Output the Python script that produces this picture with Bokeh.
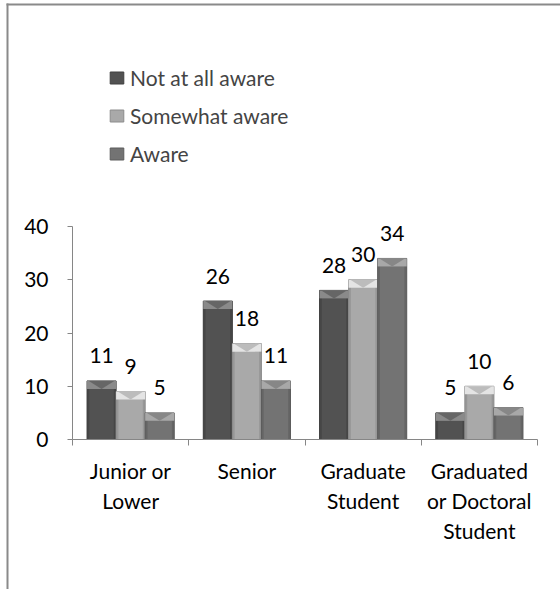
from bokeh.plotting import figure
from bokeh.models import (Range1d, FixedTicker, Legend, LegendItem, BoxAnnotation,
                          ColumnDataSource, LinearAxis)
from bokeh.core.properties import value
from bokeh.embed import file_html
from bokeh.resources import INLINE

# ---- data ----
categories = ["Junior or\nLower", "Senior", "Graduate\nStudent", "Graduated\nor Doctoral\nStudent"]
series_names = ["Not at all aware", "Somewhat aware", "Aware"]
not_at_all_aware = [11, 26, 28, 5]
somewhat_aware = [9, 18, 30, 10]
aware = [5, 11, 34, 6]
y_ticks = [0, 10, 20, 30, 40]

series_values = [not_at_all_aware, somewhat_aware, aware]
colors = ["#525252", "#a9a9a9", "#737373"]
cap_colors = ["#8a8a8a", "#e4e4e4", "#a8a8a8"]
tri_colors = ["#666666", "#bcbcbc", "#878787"]
edge_colors = ["#404040", "#8c8c8c", "#5c5c5c"]

FONT = "Lato"
BAR_W = 0.25
offsets = [-0.25, 0.0, 0.25]

W, H = 560, 589
# pixel layout of the value axis area inside the full-canvas frame
AX_LEFT, AX_RIGHT, AX_BOTTOM, AX_TOP = 72, 537, 439, 226
n = len(categories)
ymax = y_ticks[-1]
ux = (AX_RIGHT - AX_LEFT) / n
uy = (AX_BOTTOM - AX_TOP) / ymax
x_range = Range1d(-AX_LEFT / ux, n + (W - AX_RIGHT) / ux)
y_range = Range1d(-(H - AX_BOTTOM) / uy, ymax + AX_TOP / uy)

p = figure(width=W, height=H, output_backend="svg", toolbar_location=None,
           x_range=x_range, y_range=y_range,
           x_axis_location=None, y_axis_location=None,
           min_border=0, min_border_left=0, min_border_right=0,
           min_border_top=0, min_border_bottom=0)
p.outline_line_color = None
p.xgrid.visible = False
p.ygrid.visible = False
p.background_fill_color = "white"
p.border_fill_color = "white"

legend_items = []
cap_h = 1.5  # bevel band height in data units
edge_w = 0.02
for k, (name, vals) in enumerate(zip(series_names, series_values)):
    xs = [i + 0.5 + offsets[k] for i in range(len(vals))]
    src = ColumnDataSource(dict(x=xs, top=vals, label=[str(v) for v in vals]))
    r = p.vbar(x="x", top="top", bottom=0, width=BAR_W, source=src,
               fill_color=colors[k], line_color=edge_colors[k], line_width=1)
    legend_items.append(LegendItem(label=name, renderers=[r]))
    # darker side edges
    p.quad(left=[x - BAR_W / 2 for x in xs], right=[x - BAR_W / 2 + edge_w for x in xs],
           top=vals, bottom=0, fill_color=edge_colors[k], fill_alpha=0.6, line_color=None)
    p.quad(left=[x + BAR_W / 2 - edge_w for x in xs], right=[x + BAR_W / 2 for x in xs],
           top=vals, bottom=0, fill_color=edge_colors[k], fill_alpha=0.6, line_color=None)
    # bevel cap: light band at top with a darker downward chevron
    p.quad(left=[x - BAR_W / 2 for x in xs], right=[x + BAR_W / 2 for x in xs],
           top=vals, bottom=[v - cap_h for v in vals],
           fill_color=cap_colors[k], line_color=None)
    p.patches(xs=[[x - BAR_W / 2 + 0.015, x + BAR_W / 2 - 0.015, x] for x in xs],
              ys=[[v, v, v - cap_h] for v in vals],
              fill_color=tri_colors[k], line_color=None)
    p.text(x="x", y="top", text="label", source=src, text_align="center",
           text_baseline="middle", y_offset=-25, text_font=value(FONT),
           text_font_size="21px", text_color="black")

# axes (drawn at the data origin inside the full-canvas frame)
ax = LinearAxis(fixed_location=0, bounds=(0, n))
ax.ticker = FixedTicker(ticks=[i + 0.5 for i in range(n)],
                        minor_ticks=list(range(n + 1)))
ax.major_label_overrides = {i + 0.5: c for i, c in enumerate(categories)}
ax.major_tick_out = 0
ax.major_tick_in = 0
ax.minor_tick_out = 6
ax.minor_tick_in = 0
ax.minor_tick_line_color = "#868686"
ax.axis_line_color = "#868686"
ax.major_label_standoff = 12
ax.major_label_text_font = FONT
ax.major_label_text_font_size = "21px"
ax.major_label_text_color = "black"
p.add_layout(ax, "below")

ay = LinearAxis(fixed_location=0, bounds=(0, ymax))
ay.ticker = FixedTicker(ticks=y_ticks, minor_ticks=[])
ay.major_tick_out = 5
ay.major_tick_in = 0
ay.minor_tick_out = 0
ay.minor_tick_in = 0
ay.major_tick_line_color = "#868686"
ay.axis_line_color = "#868686"
ay.major_label_standoff = 19
ay.major_label_text_font = FONT
ay.major_label_text_font_size = "21px"
ay.major_label_text_color = "black"
p.add_layout(ay, "left")

legend = Legend(items=legend_items, location=(108, H - 167), orientation="vertical",
                glyph_width=17, glyph_height=15, label_height=28, spacing=10,
                label_standoff=5, padding=0, margin=0,
                label_text_font=FONT, label_text_font_size="21px",
                border_line_color=None, background_fill_alpha=0)
p.add_layout(legend, "center")

# outer frame strips (top and left) of the chart area; screen y counts from the bottom
left_strip = BoxAnnotation(left=6, right=8, top=H - 3, bottom=-50,
                           left_units="screen", right_units="screen",
                           top_units="screen", bottom_units="screen",
                           fill_color="#8a8a8a", fill_alpha=1.0,
                           line_alpha=0, line_width=0)
top_strip = BoxAnnotation(left=6, right=W + 50, top=H - 3, bottom=H - 5,
                          left_units="screen", right_units="screen",
                          top_units="screen", bottom_units="screen",
                          fill_color="#8a8a8a", fill_alpha=1.0,
                          line_alpha=0, line_width=0)
p.add_layout(left_strip)
p.add_layout(top_strip)

open("out.html", "w").write(file_html(p, INLINE))
